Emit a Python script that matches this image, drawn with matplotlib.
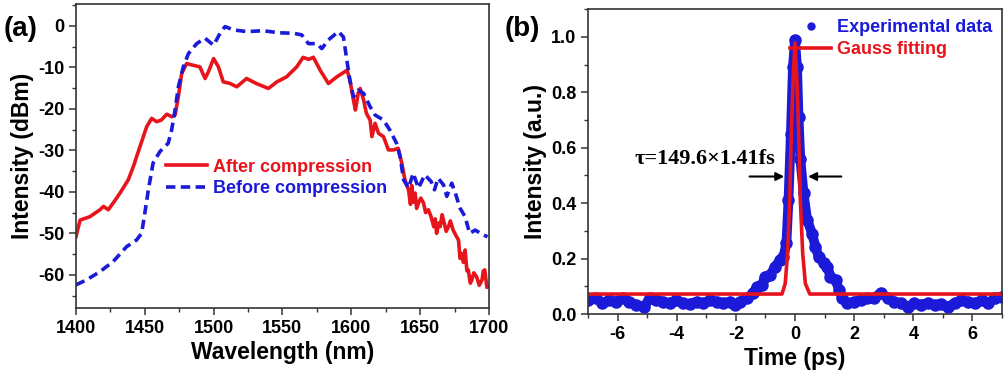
import matplotlib
matplotlib.use("Agg")
import matplotlib.pyplot as plt
from matplotlib.ticker import MultipleLocator

plt.rcParams["font.family"] = ["Liberation Sans", "DejaVu Sans"]
plt.rcParams["font.weight"] = "bold"
plt.rcParams["axes.unicode_minus"] = False

RED = "#e8141c"
BLUE = "#1a1ad8"

# (a) spectra
after_wl = [1400, 1403, 1410, 1417.5, 1420, 1423.5, 1427, 1432, 1438, 1441.7, 1446.5,
            1451.4, 1455, 1458.6, 1462, 1466, 1469.5, 1472, 1474.4, 1476.8, 1480.4,
            1485, 1490, 1493.8, 1496.2, 1500, 1503.5, 1507, 1512, 1516.8, 1524, 1531,
            1539.8, 1546, 1553, 1560.4, 1565, 1569, 1572.5, 1577.4, 1583.4, 1589.5,
            1597, 1599, 1601.6, 1603, 1605, 1606.5, 1609, 1611, 1613.7, 1615, 1617.3,
            1619.8, 1623.4, 1627, 1630.7, 1634, 1636.7, 1639, 1641.6, 1643, 1644,
            1645, 1646.4, 1647.5, 1648.8, 1650.5, 1652.5, 1654, 1656, 1658, 1659.9,
            1661, 1662, 1663.5, 1664.6, 1666, 1667, 1669, 1670.6, 1672, 1674, 1676,
            1677.9, 1679, 1680, 1681.5, 1682.7, 1684, 1685, 1686.5, 1687.6, 1689,
            1691, 1693, 1695, 1696, 1697, 1698.5, 1700]
after_db = [-50.8, -46.8, -46, -44.3, -43.5, -44.3, -42.7, -40.3, -37.1, -33.9, -29.1,
            -24.3, -22.3, -23.1, -22.7, -21.3, -21.9, -21.5, -17.1, -11.5, -9.1,
            -9.5, -9.9, -12.7, -11.1, -7.9, -9.9, -13.5, -13.9, -14.7, -12.7, -13.9,
            -15.1, -13.5, -12.3, -9.9, -7.6, -8.1, -7.6, -10.7, -13.9, -12.3,
            -10.7, -13.1, -17.9, -20.3, -16.3, -15.1, -17.9, -21.1, -22.7, -26.7, -23.5,
            -25.9, -26.7, -29.9, -29.9, -29.5, -33.1, -37.1, -39.5, -43, -38.5,
            -42.5, -40.3, -44, -42.7, -41.5, -42.7, -45, -44.3, -46, -48.4,
            -46.5, -50, -47.5, -48.4, -45.5, -46.8, -49.5, -48.4, -47, -49.2, -50.5,
            -51.6, -56, -54.8, -57, -54, -59, -58.8, -62, -61.2, -59.5,
            -60.4, -62.5, -61.2, -59, -58.8, -63, -62.8]

before_wl = [1400, 1407.7, 1417.5, 1427, 1436.8, 1444, 1447.7, 1450, 1452.6, 1456, 1461,
             1467, 1469.5, 1472, 1474.4, 1478, 1481.7, 1487.7, 1493.8, 1500, 1504.7,
             1508.3, 1514.4, 1524, 1536, 1548, 1558, 1564, 1568.9, 1575, 1578.6,
             1583.4, 1590.7, 1594.3, 1596.8, 1599, 1601.6, 1605, 1609, 1613.7, 1617.3,
             1623.4, 1628, 1632.9, 1635.5, 1638, 1641.6, 1645, 1648.8, 1653.4, 1658,
             1660.5, 1663, 1667, 1669.4, 1673, 1675.6, 1679, 1682.7, 1686, 1690,
             1696, 1699]
before_db = [-62.4, -61.2, -59.2, -56.8, -53.2, -51.6, -50, -45.2, -39.5, -33.1, -30.3,
             -28.3, -25.1, -20.3, -14.7, -9.9, -6.7, -4.3, -3.0, -4.7, -1.8,
             -0.2, -1.0, -1.4, -1.2, -1.7, -1.8, -2.2, -4.3, -4.3, -5.5,
             -3.4, -1.4, -2.7, -8.3, -13.1, -17.1, -15.5, -16.3, -19.5, -21.5,
             -22.7, -25.1, -28.3, -31.5, -37.1, -39.1, -35.5, -39.1, -35.9, -37.5,
             -39.5, -36.7, -38.3, -41.1, -37.9, -40.3, -43.9, -46, -50, -49.2,
             -50.4, -50.8]

# (b) autocorrelation
exp_t = [-6.99, -6.74, -6.51, -6.28, -6.06, -5.83, -5.6, -5.38, -5.09, -4.92, -4.7,
         -4.47, -4.24, -4.01, -3.79, -3.56, -3.33, -3.11, -2.88, -2.65, -2.43, -2.2,
         -2.03, -1.86, -1.63, -1.41, -1.29, -1.12, -1.01, -0.84, -0.67, -0.5, -0.39,
         -0.29, -0.22, -0.14, -0.07, 0, 0.07, 0.12, 0.18, 0.29, 0.41, 0.58, 0.69,
         0.8, 0.98, 1.09, 1.2, 1.37, 1.49, 1.6, 1.77, 2.0, 2.22, 2.45, 2.68, 2.9,
         3.13, 3.36, 3.58, 3.81, 4.04, 4.26, 4.49, 4.72, 4.94, 5.17, 5.4, 5.63,
         5.85, 6.08, 6.31, 6.53, 6.76, 6.99]
exp_i = [0.05, 0.057, 0.039, 0.05, 0.045, 0.057, 0.045, 0.033, 0.027, 0.057, 0.05,
         0.045, 0.039, 0.05, 0.039, 0.036, 0.045, 0.039, 0.05, 0.045, 0.039, 0.045,
         0.033, 0.045, 0.057, 0.075, 0.099, 0.105, 0.135, 0.141, 0.171, 0.195, 0.207,
         0.255, 0.41, 0.65, 0.89, 0.99, 0.89, 0.71, 0.56, 0.436, 0.34, 0.29, 0.243,
         0.207, 0.183, 0.171, 0.135, 0.123, 0.087, 0.057, 0.039, 0.045, 0.05, 0.057, 0.057, 0.077,
         0.057, 0.045, 0.039, 0.027, 0.039, 0.033, 0.039, 0.033, 0.036, 0.027, 0.039, 0.05,
         0.045, 0.039, 0.05, 0.039, 0.057, 0.063]

fit_t = [-7, -0.44, -0.33, -0.25, -0.18, -0.125, -0.07, 0, 0.07, 0.125, 0.18, 0.26,
         0.35, 0.5, 7]
fit_i = [0.072, 0.072, 0.11, 0.22, 0.41, 0.65, 0.83, 0.978, 0.83, 0.65, 0.41, 0.22,
         0.11, 0.072, 0.072]


def style_axes(ax):
    for s in ax.spines.values():
        s.set_color("#333333")
        s.set_linewidth(1.2)
    ax.tick_params(which="major", direction="out", length=5, width=1.1,
                   color="#333333", labelsize=13, top=False, right=False)
    ax.tick_params(which="minor", direction="out", length=3, width=1.0,
                   color="#333333", top=False, right=False)
    for lab in ax.get_xticklabels() + ax.get_yticklabels():
        lab.set_fontweight("bold")


fig = plt.figure(figsize=(10.06, 3.79), dpi=100)

# panel (a)
ax1 = fig.add_axes([0.0755, 0.187, 0.4105, 0.802])
ax1.plot(after_wl, after_db, color=RED, lw=2.6, label="After compression")
ax1.plot(before_wl, before_db, color=BLUE, lw=2.6, ls=(0, (2.6, 1.5)),
         label="Before compression")
ax1.set_xlim(1400, 1700)
ax1.set_ylim(-68, 5.2)
ax1.xaxis.set_major_locator(MultipleLocator(50))
ax1.xaxis.set_minor_locator(MultipleLocator(25))
ax1.yaxis.set_major_locator(MultipleLocator(10))
ax1.yaxis.set_minor_locator(MultipleLocator(5))
ax1.set_xlabel("Wavelength (nm)", fontsize=16.5, fontweight="bold", labelpad=3)
ax1.set_ylabel("Intensity (dBm)", fontsize=16.5, fontweight="bold", labelpad=3)
style_axes(ax1)
leg1 = ax1.legend(loc="upper left", bbox_to_anchor=(0.2, 0.515), frameon=False,
                  fontsize=13, handlelength=2.3, handletextpad=0.3,
                  labelspacing=0.25, borderaxespad=0)
for t, c in zip(leg1.get_texts(), [RED, BLUE]):
    t.set_color(c)
    t.set_fontweight("bold")
fig.text(0.004, 0.905, "(a)", fontsize=20, fontweight="bold")

# panel (b)
ax2 = fig.add_axes([0.5845, 0.1715, 0.4115, 0.8045])
ax2.plot(exp_t, exp_i, color=BLUE, lw=7, marker="o", ms=8, mec=BLUE,
         mfc=BLUE, label="Experimental data")
ax2.plot(fit_t, fit_i, color=RED, lw=2.6, label="Gauss fitting")
ax2.set_xlim(-7, 7)
ax2.set_ylim(0, 1.1)
ax2.xaxis.set_major_locator(MultipleLocator(2))
ax2.xaxis.set_minor_locator(MultipleLocator(1))
ax2.yaxis.set_major_locator(MultipleLocator(0.2))
ax2.yaxis.set_minor_locator(MultipleLocator(0.1))
ax2.set_xticks([-6, -4, -2, 0, 2, 4, 6])
ax2.set_xlabel("Time (ps)", fontsize=16.5, fontweight="bold", labelpad=3)
ax2.set_ylabel("Intensity (a.u.)", fontsize=16.5, fontweight="bold", labelpad=3)
style_axes(ax2)

h_exp = plt.Line2D([], [], color=BLUE, marker="o", ms=5, ls="none")
h_fit = plt.Line2D([], [], color=RED, lw=2.6)
leg2 = ax2.legend([h_exp, h_fit], ["Experimental data", "Gauss fitting"],
                  loc="upper right", bbox_to_anchor=(1.0, 1.0), frameon=False,
                  fontsize=13, handlelength=2.3, handletextpad=0.3,
                  labelspacing=0.3, borderaxespad=0.15)
for t, c in zip(leg2.get_texts(), [BLUE, RED]):
    t.set_color(c)
    t.set_fontweight("bold")

ax2.text(-3.05, 0.56, "\u03c4=149.6\u00d71.41fs", fontsize=16, fontweight="bold",
         family=["Liberation Serif", "DejaVu Serif"], ha="center", va="center")
ax2.annotate("", xy=(-0.27, 0.496), xytext=(-1.63, 0.496),
             arrowprops=dict(arrowstyle="-|>", color="black", lw=1.5,
                             mutation_scale=12))
ax2.annotate("", xy=(0.35, 0.496), xytext=(1.66, 0.496),
             arrowprops=dict(arrowstyle="-|>", color="black", lw=1.5,
                             mutation_scale=12))
fig.text(0.502, 0.905, "(b)", fontsize=20, fontweight="bold")

fig.savefig("out.png", dpi=100)
